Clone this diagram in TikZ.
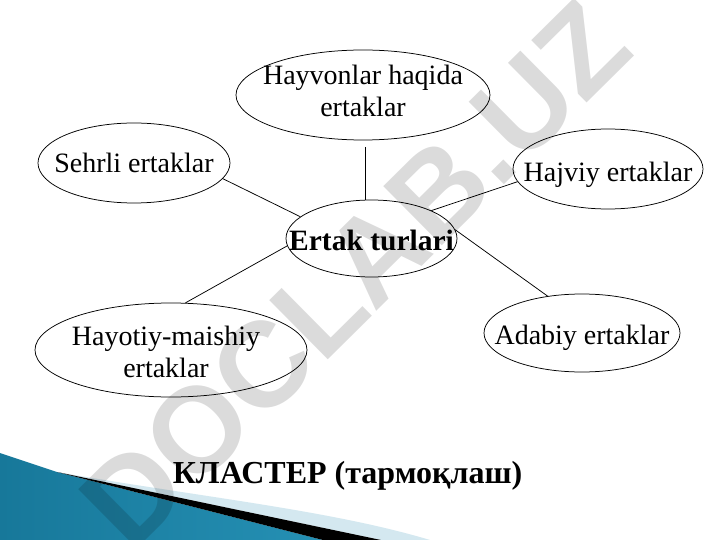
\documentclass[tikz,border=0pt]{standalone}
\usepackage{fontspec}
\setmainfont{Liberation Serif}
\newfontfamily\wmfont{Liberation Sans}
\usetikzlibrary{shapes.geometric}
\definecolor{bluedark}{HTML}{17789A}
\definecolor{bluemid}{HTML}{4AAFD0}
\definecolor{blueright}{HTML}{2590B4}
\definecolor{bandblue}{HTML}{D4E8F0}
% text placed with its (first) baseline #1 below the node centre
\newcommand{\lblbox}[2]{\makebox[0pt]{\raisebox{-#1}[0pt][0pt]{#2}}}
\begin{document}
\begin{tikzpicture}[x=1pt,y=-1pt,
  bubble/.style={ellipse,draw,line width=0.75pt,inner sep=0pt,font=\fontsize{28}{32}\selectfont},
  link/.style={line width=0.75pt},
  wmark/.style={rotate=44.7,text=black,opacity=0.14,font=\wmfont\bfseries\fontsize{121}{121}\selectfont}]
\useasboundingbox (0,0) rectangle (720,540);
\fill[white] (0,0) rectangle (720,540);

% bottom-left decoration
\shade[left color=bluedark,middle color=bluemid,right color=blueright]
  (0,453) -- (57,472) -- (323,540) -- (0,540) -- cycle;
\fill[bandblue] (57,472) .. controls (200,497) and (330,510) .. (430,540) -- (381,540) -- cycle;
\fill[black] (57,472) -- (381,540) -- (323,540) -- cycle;

% nodes
\node[bubble,minimum width=254pt,minimum height=90pt] (H) at (363,95)
  {\lblbox{-10pt}{\begin{tabular}[t]{@{}c@{}}Hayvonlar haqida\\ ertaklar\end{tabular}}};
\node[bubble,minimum width=192pt,minimum height=80pt] (S) at (134,163)
  {\lblbox{10pt}{Sehrli ertaklar}};
\node[bubble,minimum width=190pt,minimum height=80pt] (J) at (608,169)
  {\lblbox{13pt}{Hajviy ertaklar}};
\node[bubble,minimum width=171pt,minimum height=77pt] (C) at (371.5,238.5)
  {\lblbox{11.5pt}{\fontsize{29.5}{33}\selectfont\bfseries Ertak turlari}};
\node[bubble,minimum width=196pt,minimum height=78pt] (A) at (582,333)
  {\lblbox{11pt}{Adabiy ertaklar}};
\node[bubble,minimum width=272pt,minimum height=94pt] (Y) at (171,350)
  {\lblbox{-5pt}{\begin{tabular}[t]{@{}c@{}}Hayotiy-maishiy\\ ertaklar\end{tabular}\hspace{10pt}}};

% connectors
\coordinate (hc) at (365,147);
\draw[link] (hc) -- (hc |- C.north);
\draw[link] (S.-10.8) -- (C.163.5);
\draw[link] (J.-172) -- (C.25);
\draw[link] (C.6) -- (A.133);
\draw[link] (C.-175.6) -- (Y.73.4);

% title
\node[font=\bfseries\fontsize{32}{36}\selectfont,anchor=base] (T) at (347.5,483) {КЛАСТЕР (тармоқлаш)};

% watermark
\node[wmark] (wm) at (355,274) {DOCLAB.UZ};
\end{tikzpicture}
\end{document}
